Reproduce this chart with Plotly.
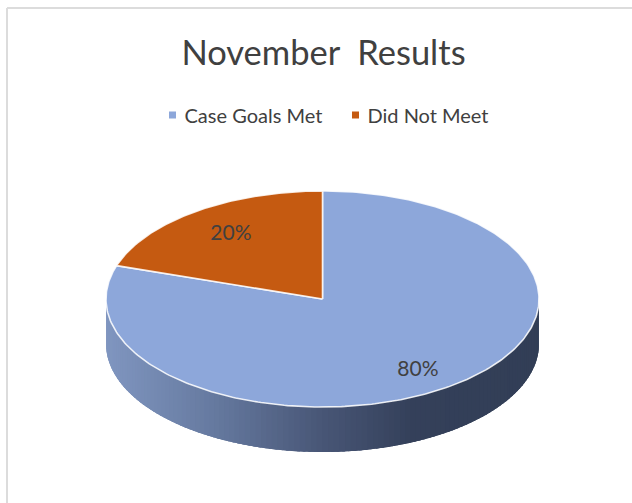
import numpy as np
import plotly.graph_objects as go

categories = ["Case Goals Met", "Did Not Meet"]
values = [80, 20]
labels = ["80%", "20%"]
colors = ["#8da7da", "#c55a11"]
title_text = "November  Results"

W, H = 632, 503
CX, CY, RX, RY, DEPTH = 322.5, 299, 216.5, 108, 45
LABEL_FX = np.array([0.75, 0.72])
LABEL_FY = np.array([0.82, 0.74])
FONT = "Lato, Carlito, sans-serif"
TEXT = "#404040"

fig = go.Figure()


def ellipse(a, dy=0.0):
    # a is in radians, clockwise from 12 o'clock
    return CX + RX * np.sin(a), CY - RY * np.cos(a) + dy


def wall_color(x):
    stops_x = [CX - RX, CX - 110, CX, CX + 90, CX + RX]
    r = np.interp(x, stops_x, [128, 102, 72, 52, 50])
    g = np.interp(x, stops_x, [150, 122, 86, 64, 62])
    b = np.interp(x, stops_x, [192, 160, 118, 90, 86])
    return f"rgb({r:.0f},{g:.0f},{b:.0f})"


# Side wall of the disc (front half only), painted right to left with overlap
edges = np.linspace(np.pi / 2, 3 * np.pi / 2, 121)
step = edges[1] - edges[0]
for a0 in edges[:-1]:
    a = np.linspace(a0, min(a0 + 2.5 * step, edges[-1]), 6)
    xs, ys = ellipse(a)
    c = wall_color(CX + RX * np.sin(a0 + step / 2))
    fig.add_trace(go.Scatter(
        x=np.r_[xs, xs[::-1], xs[0]], y=np.r_[ys, ys[::-1] + DEPTH, ys[0]],
        mode="lines", fill="toself", fillcolor=c,
        line=dict(width=0), hoverinfo="skip", showlegend=False))

# Top face slices, drawn from the values
total = sum(values)
start = 0.0
mids = []
for v, col, name in zip(values, colors, categories):
    sweep = 2 * np.pi * v / total
    a = np.linspace(start, start + sweep, int(v * 4) + 2)
    xs, ys = ellipse(a)
    fig.add_trace(go.Scatter(
        x=np.r_[CX, xs, CX], y=np.r_[CY, ys, CY],
        mode="lines", fill="toself", fillcolor=col,
        line=dict(color="rgba(255,255,255,0.85)", width=1.6),
        hoverinfo="skip", showlegend=False))
    mids.append(start + sweep / 2)
    start += sweep

# Data labels
lx, ly = ellipse(np.array(mids))
lx = CX + (lx - CX) * LABEL_FX
ly = CY + (ly - CY) * LABEL_FY
fig.add_trace(go.Scatter(
    x=lx, y=ly, mode="text", text=labels, textposition="middle center",
    textfont=dict(family=FONT, size=21, color=TEXT),
    hoverinfo="skip", showlegend=False))

# Legend entries
for name, col in zip(categories, colors):
    fig.add_trace(go.Scatter(
        x=[None], y=[None], mode="markers", name=name,
        marker=dict(symbol="square", size=7, color=col)))

fig.update_layout(
    width=W, height=H, autosize=False,
    margin=dict(l=0, r=0, t=0, b=0),
    paper_bgcolor="white", plot_bgcolor="white",
    xaxis=dict(range=[0, W], visible=False, fixedrange=True),
    yaxis=dict(range=[H, 0], visible=False, fixedrange=True),
    title=dict(text=title_text, x=323.5 / W, xanchor="center", y=1 - 53 / H,
               yanchor="middle", font=dict(family=FONT, size=34.5, color=TEXT)),
    legend=dict(orientation="h", x=152.5 / W, xanchor="left", y=1 - 115 / H,
                yanchor="middle", bgcolor="rgba(0,0,0,0)", traceorder="normal",
                font=dict(family=FONT, size=20, color=TEXT),
                entrywidth=138, entrywidthmode="pixels"),
    shapes=[
        dict(type="line", xref="paper", yref="paper", x0=7 / W, x1=7 / W, y0=0, y1=1 - 8 / H,
             line=dict(color="#dcdcdc", width=2)),
        dict(type="line", xref="paper", yref="paper", x0=7 / W, x1=1, y0=1 - 8 / H, y1=1 - 8 / H,
             line=dict(color="#dcdcdc", width=2)),
    ],
)

post = """
document.body.style.margin = '0';
document.body.style.overflow = 'hidden';
document.querySelectorAll('.legend .legendtext').forEach(function (t) { t.setAttribute('x', '32'); });
"""
fig.write_html("out.html", config=dict(displayModeBar=False), post_script=post)
